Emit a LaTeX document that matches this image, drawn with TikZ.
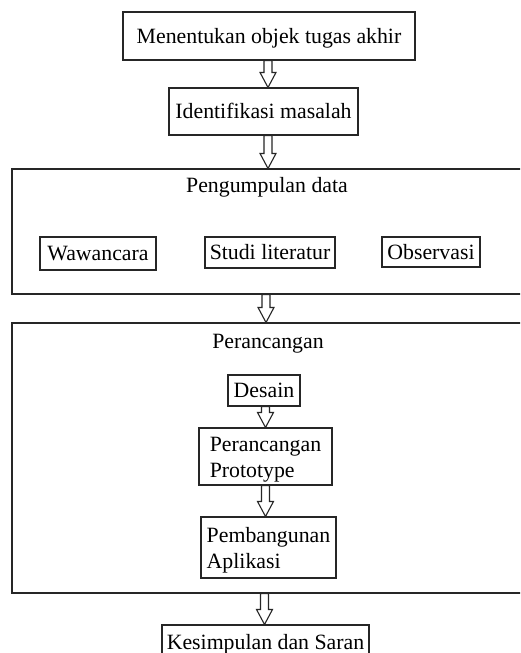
\documentclass[tikz,border=0pt]{standalone}
\usepackage{fontspec}
\setmainfont{Liberation Serif}
\usetikzlibrary{calc}
\tikzset{
  box/.style={draw=black!85, line width=1.1pt, inner sep=0pt, fill=white},
  one/.style={text height=17pt, text depth=3pt},
  title/.style={inner sep=0pt, text height=15pt, text depth=5pt},
  harrow/.style={draw=black!85, line width=1.1pt, fill=white, line join=miter}
}
\newcommand\hollowarrow[3]{%
  \draw[harrow] let \p1=(#2.south), \p2=(#3.north) in
    ({#1pt-4pt},\y1) -- ({#1pt-4pt},{\y2+15pt}) -- ({#1pt-8pt},{\y2+15pt}) --
    ({#1pt},\y2) -- ({#1pt+8pt},{\y2+15pt}) -- ({#1pt+4pt},{\y2+15pt}) --
    ({#1pt+4pt},\y1) -- cycle;}
\newcommand\firststrut{\rule{0pt}{21pt}}
\begin{document}
\begin{tikzpicture}[x=1pt,y=-1pt,font=\fontsize{21.8}{26}\selectfont]
\clip (0,0) rectangle (520,653);
\fill[white] (0,0) rectangle (520,653);
% top boxes
\node[box,one,minimum width=292pt,minimum height=48pt] (obj) at (269,36) {Menentukan objek tugas akhir};
\node[box,one,minimum width=189pt,minimum height=47pt] (idm) at (263.5,111.5) {Identifikasi masalah};
% pengumpulan data
\node[box,minimum width=528pt,minimum height=125pt] (pd) at (276,231.5) {};
\node[title] (pdt) at (267,187) {Pengumpulan data};
\node[box,one,minimum width=116pt,minimum height=33pt] (waw) at (98,253.5) {Wawancara};
\node[box,one,minimum width=130pt,minimum height=31pt] (stu) at (270,252.5) {Studi literatur};
\node[box,one,minimum width=98pt,minimum height=30pt] (obs) at (431,252) {Observasi};
% perancangan
\node[box,minimum width=528pt,minimum height=270pt] (per) at (276,458) {};
\node[title] (pert) at (268,343) {Perancangan};
\node[box,one,minimum width=72pt,minimum height=31pt] (des) at (264,390.5) {Desain};
\node[box,align=left,minimum width=133pt,minimum height=57pt] (pro) at (265.5,456.5) {\firststrut Perancangan\\Prototype};
\node[box,align=left,minimum width=135pt,minimum height=61pt] (pem) at (268.5,547.5) {\firststrut Pembangunan\\Aplikasi};
% kesimpulan
\node[box,one,minimum width=207pt,minimum height=35pt] (kes) at (265.5,642.5) {Kesimpulan dan Saran};
% arrows
\hollowarrow{268}{obj}{idm}
\hollowarrow{268}{idm}{pd}
\hollowarrow{266}{pd}{per}
\hollowarrow{265.5}{des}{pro}
\hollowarrow{265.5}{pro}{pem}
\hollowarrow{264.5}{per}{kes}
\end{tikzpicture}
\end{document}
